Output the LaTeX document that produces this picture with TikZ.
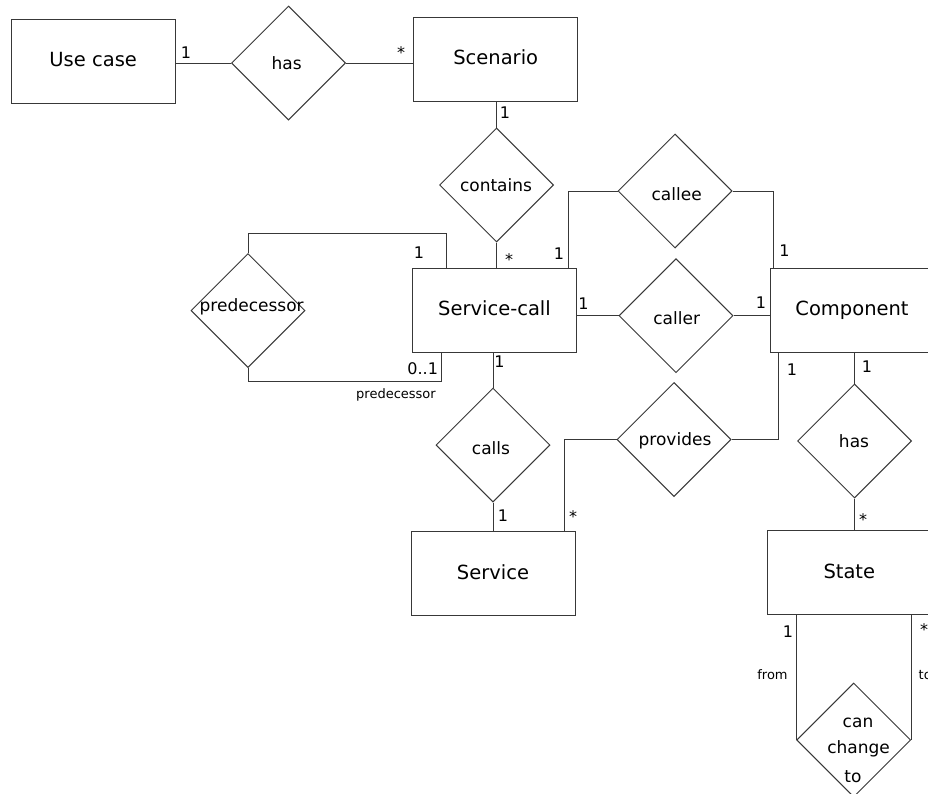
\documentclass[tikz,border=0pt]{standalone}
\usepackage{fontspec}
\setmainfont{DejaVu Sans}
\usetikzlibrary{shapes.geometric,calc}
\begin{document}
\begin{tikzpicture}[x=1pt,y=-1pt,
  line/.style={draw=black!78,line width=1pt},
  entity/.style={line,rectangle,minimum width=164pt,minimum height=84pt,inner sep=0pt,
    font=\fontsize{19.5}{22}\selectfont,text height=14.2pt,text depth=3pt},
  rel/.style={line,diamond,aspect=1,minimum width=114pt,minimum height=114pt,inner sep=0pt},
  rtext/.style={font=\fontsize{17}{20}\selectfont,inner sep=0pt,anchor=base},
  card/.style={font=\fontsize{16}{19}\selectfont,inner sep=0pt,anchor=base},
  role/.style={font=\fontsize{13}{15}\selectfont,inner sep=0pt,anchor=base}]
\useasboundingbox (0,0) rectangle (928,793);
\clip (0,0) rectangle (928,793);
\fill[white] (0,0) rectangle (928,793);

% entities
\node[entity] (uc) at (93.2,61) {Use case};
\node[entity] (sc) at (495.7,59) {Scenario};
\node[entity] (scall) at (494.5,310.3) {Service-call};
\node[entity] (srv) at (493,573.7) {Service};
\node[entity] (comp) at (852,310) {Component};
\node[entity] (st) at (849.3,572.6) {State};

% relationships
\node[rel] (has) at (288.5,63) {};
\node[rel] (cont) at (496.5,185) {};
\node[rel] (pred) at (248,310.5) {};
\node[rel] (cle) at (675,191) {};
\node[rel] (clr) at (676,315.7) {};
\node[rel] (prov) at (674,439.5) {};
\node[rel] (calls) at (493,445) {};
\node[rel] (hastwo) at (854.5,441) {};
\node[rel] (cct) at (853.7,740) {};

% relationship texts
\node[rtext] (hasT) at (286.7,69.3) {has};
\node[rtext] (contT) at (496,191) {contains};
\node[rtext] (predT) at (251.7,311.5) {predecessor};
\node[rtext] (cleT) at (676.7,200) {callee};
\node[rtext] (clrT) at (676.7,324) {caller};
\node[rtext] (provT) at (675,445.7) {provides};
\node[rtext] (callsT) at (491,454) {calls};
\node[rtext] (hastwoT) at (854,447) {has};
\node[rtext] (cctA) at (858,727) {can};
\node[rtext] (cctB) at (858.6,753.7) {change};
\node[rtext] (cctC) at (853,782) {to};

% helper coordinates
\coordinate (predTop) at (446,233);
\coordinate (predBot) at (441,381.7);

% connectors
\draw[line] (has.west -| uc.east) -- (has.west);
\draw[line] (has.east) -- (has.east -| sc.west);
\draw[line] (cont.north |- sc.south) -- (cont.north);
\draw[line] (cont.south) -- (cont.south |- scall.north);
\draw[line] (pred.north) |- (predTop) -- (predTop |- scall.north);
\draw[line] (pred.south) |- (predBot) -- (predBot |- scall.south);
\draw[line] (cle.west) -| ([xshift=-8.2pt]scall.north east);
\draw[line] (cle.east) -| ([xshift=4pt]comp.north west);
\draw[line] (clr.west -| scall.east) -- (clr.west);
\draw[line] (clr.east) -- (clr.east -| comp.west);
\draw[line] (prov.east) -| ([xshift=8.7pt]comp.south west);
\draw[line] (prov.west) -| ([xshift=-11pt]srv.north east);
\draw[line] (calls.north |- scall.south) -- (calls.north);
\draw[line] (calls.south) -- (calls.south |- srv.north);
\draw[line] (hastwo.north |- comp.south) -- (hastwo.north);
\draw[line] (hastwo.south) -- (hastwo.south |- st.north);
\draw[line] (cct.west |- st.south) -- (cct.west);
\draw[line] (cct.east |- st.south) -- (cct.east);

% cardinalities
\node[card] (c1) at (186,58) {1};
\node[card] (c2) at (401,58.5) {*};
\node[card] (c3) at (505,118) {1};
\node[card] (c4) at (509,265.5) {*};
\node[card] (c5) at (419,258.3) {1};
\node[card] (c6) at (559,259) {1};
\node[card] (c7) at (422.7,374.3) {0..1};
\node[card] (c8) at (583.5,309.5) {1};
\node[card] (c9) at (761,308) {1};
\node[card] (c10) at (784.5,256) {1};
\node[card] (c11) at (792,375.7) {1};
\node[card] (c12) at (867,372.7) {1};
\node[card] (c13) at (499.5,367.7) {1};
\node[card] (c14) at (503,521.4) {1};
\node[card] (c15) at (573,522.5) {*};
\node[card] (c16) at (863,525) {*};
\node[card] (c17) at (788,637.6) {1};
\node[card] (c18) at (924,635.5) {*};

% role names
\node[role] (r1) at (396,398) {predecessor};
\node[role] (r2) at (772.5,679.7) {from};
\node[role,anchor=base west] (r3) at (918.5,679.7) {to};
\end{tikzpicture}
\end{document}
